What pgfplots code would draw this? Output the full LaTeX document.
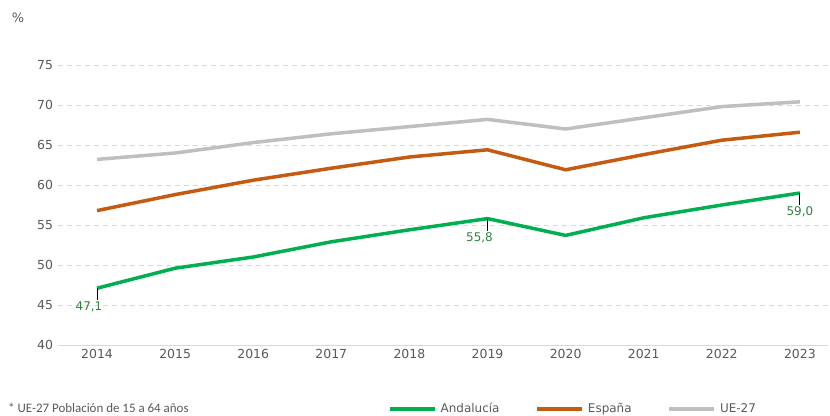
\documentclass[border=0pt]{standalone}
\usepackage{pgfplots}
\pgfplotsset{compat=1.18}
\usepackage{fontspec}
\setmainfont{DejaVu Sans}
\newfontfamily\calfont{Carlito}
\definecolor{andal}{RGB}{0,176,80}
\definecolor{esp}{RGB}{197,90,17}
\definecolor{ue}{RGB}{191,191,191}
\definecolor{lbl}{RGB}{50,130,60}
\definecolor{txt}{RGB}{89,89,89}
\definecolor{grd}{RGB}{217,217,217}
\begin{document}
\begin{tikzpicture}
\useasboundingbox (0,0) rectangle (830bp,416bp);
\begin{axis}[
  at={(58bp,71bp)}, anchor=south west,
  scale only axis, width=770bp, height=280bp,
  xmin=-0.5, xmax=9.36, ymin=40, ymax=75,
  xtick={0,1,...,9},
  xticklabels={2014,2015,2016,2017,2018,2019,2020,2021,2022,2023},
  ytick={40,45,...,75},
  /pgf/number format/assume math mode=true,
  xticklabel style={font=\fontsize{12.5}{14}\selectfont, text=txt, yshift=-0.5bp},
  yticklabel style={font=\fontsize{12.5}{14}\selectfont, text=txt, xshift=-1.5bp},
  major tick length=0pt,
  axis x line*=bottom, axis y line*=left,
  x axis line style={-, grd, line width=1bp},
  y axis line style={draw=none},
  ymajorgrids,
  major grid style={grd, line width=0.8bp, dash pattern=on 5bp off 4bp},
  legend columns=3,
  legend style={at={(axis description cs:0.4286,-0.228)}, anchor=west, draw=none, fill=none, inner sep=0pt,
    font=\fontsize{12}{14}\selectfont, text=txt,
    /tikz/every odd column/.append style={column sep=2bp},
    /tikz/every even column/.append style={column sep=34bp}},
  legend cell align=left,
  legend image code/.code={\draw[#1] (0bp,0bp) -- (45bp,0bp);},
]
\addplot[andal, line width=3.5bp, line join=round] coordinates {
(0,47.1) (1,49.6) (2,51.0) (3,52.9) (4,54.4) (5,55.8) (6,53.7) (7,55.9) (8,57.5) (9,59.0)};
\addlegendentry{Andalucía}
\addplot[esp, line width=3.5bp, line join=round] coordinates {
(0,56.8) (1,58.8) (2,60.6) (3,62.1) (4,63.5) (5,64.4) (6,61.9) (7,63.8) (8,65.6) (9,66.6)};
\addlegendentry{España}
\addplot[ue, line width=3.5bp, line join=round] coordinates {
(0,63.2) (1,64.0) (2,65.3) (3,66.4) (4,67.3) (5,68.2) (6,67.0) (7,68.4) (8,69.8) (9,70.4)};
\addlegendentry{UE-27}
\draw[black, line width=0.8bp] (axis cs:0,47.1) -- ++(axis direction cs:0,-1.5) node[below, inner sep=1.5bp, text=lbl, font=\fontsize{12}{14}\selectfont, xshift=-8bp]{47,1};
\draw[black, line width=0.8bp] (axis cs:5,55.8) -- ++(axis direction cs:0,-1.5) node[below, inner sep=1.5bp, text=lbl, font=\fontsize{12}{14}\selectfont, xshift=-8bp]{55,8};
\draw[black, line width=0.8bp] (axis cs:9,59.0) -- ++(axis direction cs:0,-1.5) node[below, inner sep=1.5bp, text=lbl, font=\fontsize{12}{14}\selectfont]{59,0};
\end{axis}
\node[anchor=base west, inner sep=0pt, font=\calfont\fontsize{13}{15}\selectfont, text=txt] at (8bp,4bp) {* UE-27 Población de 15 a 64 años};
\node[font=\fontsize{13}{15}\selectfont, text=txt] at (18bp,398bp) {\%};
\end{tikzpicture}
\end{document}
